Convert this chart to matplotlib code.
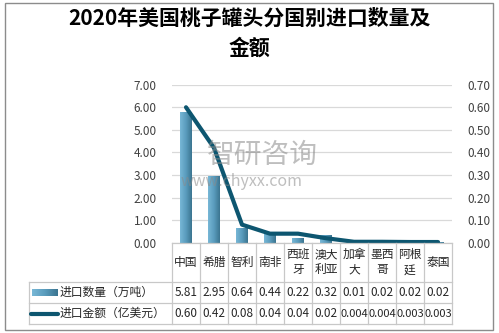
import matplotlib.pyplot as plt
import numpy as np
from matplotlib.colors import LinearSegmentedColormap
from matplotlib.patches import Rectangle

plt.rcParams['font.family'] = ['Noto Sans CJK SC', 'DejaVu Sans']

countries = ['中国', '希腊', '智利', '南非', '西班\n牙', '澳大\n利亚', '加拿\n大', '墨西\n哥', '阿根\n廷', '泰国']
quantity = [5.81, 2.95, 0.64, 0.44, 0.22, 0.32, 0.01, 0.02, 0.02, 0.02]
amount = [0.60, 0.42, 0.08, 0.04, 0.04, 0.02, 0.004, 0.004, 0.003, 0.003]
qty_labels = ['5.81', '2.95', '0.64', '0.44', '0.22', '0.32', '0.01', '0.02', '0.02', '0.02']
amt_labels = ['0.60', '0.42', '0.08', '0.04', '0.04', '0.02', '0.004', '0.004', '0.003', '0.003']
series_names = ['进口数量（万吨）', '进口金额（亿美元）']

W, H = 499, 333
fig = plt.figure(figsize=(W / 100, H / 100), dpi=100)


def fx(px):
    return px / W


def fy(py):
    return 1 - py / H


line_color = '#0d5670'
grid_color = '#d9d9d9'
table_color = '#c8c8c8'
bar_cmap = LinearSegmentedColormap.from_list('bar', ['#78b7d6', '#5a9cbd', '#3b7590'])

# plot area
x0, x1, ytop, ybot = 172, 452, 84.7, 242.7
ax = fig.add_axes([fx(x0), fy(ybot), fx(x1 - x0), (ybot - ytop) / H])
n = len(countries)
xs = np.arange(n)
ax.set_yticks(np.arange(0, 7.01, 1))
ax.set_yticklabels([f'{v:.2f}' for v in np.arange(0, 7.01, 1)])
ax.yaxis.grid(True, color=grid_color, lw=0.9)
ax.set_axisbelow(True)
ax.set_xticks([])
for s in ax.spines.values():
    s.set_visible(False)
ax.tick_params(axis='y', length=0, labelsize=8.5, pad=11, labelcolor='#404040')

bw = 0.4
grad = np.linspace(0, 1, 64).reshape(1, -1)
for x, q in zip(xs, quantity):
    r = Rectangle((x - bw / 2, 0), bw, q, facecolor='none', edgecolor='none')
    ax.add_patch(r)
    im = ax.imshow(grad, cmap=bar_cmap, aspect='auto', extent=(x - bw / 2, x + bw / 2, 0, q), zorder=2)
    im.set_clip_path(r)
ax.set_xlim(-0.5, n - 0.5)
ax.set_ylim(0, 7)

ax2 = ax.twinx()
ax2.set_ylim(0, 0.7)
ax2.set_yticks(np.arange(0, 0.71, 0.1))
ax2.set_yticklabels([f'{v:.2f}' for v in np.arange(0, 0.71, 0.1)])
for s in ax2.spines.values():
    s.set_visible(False)
ax2.tick_params(axis='y', length=0, labelsize=8.5, pad=11, labelcolor='#404040')
ax2.plot(xs, amount, color=line_color, lw=3, solid_capstyle='round', zorder=3)

# title
fig.text(0.5, fy(18), '2020年美国桃子罐头分国别进口数量及', ha='center', va='center',
         fontsize=15, fontweight='bold', color='black')
fig.text(0.5, fy(48), '金额', ha='center', va='center', fontsize=15, fontweight='bold', color='black')

# watermark
fig.text(fx(207), fy(155), '智研咨询', fontsize=20, color='#8a8a8a', alpha=0.55, va='center')
fig.text(fx(181), fy(181), 'www.chyxx.com', fontsize=11.5, color='#8a8a8a', alpha=0.55, va='center')

# data table
cw = (x1 - x0) / n
rows_y = [242.7, 281.7, 303.3, 324.3]
lkw = dict(color=table_color, lw=0.9, transform=fig.transFigure)
fig.add_artist(plt.Line2D([fx(x0), fx(x1)], [fy(rows_y[0])] * 2, **lkw))
for yy in rows_y[1:]:
    fig.add_artist(plt.Line2D([fx(29), fx(x1)], [fy(yy)] * 2, **lkw))
for i in range(n + 1):
    xx = x0 + i * cw
    fig.add_artist(plt.Line2D([fx(xx)] * 2, [fy(rows_y[0]), fy(rows_y[3])], **lkw))
fig.add_artist(plt.Line2D([fx(29)] * 2, [fy(rows_y[1]), fy(rows_y[3])], **lkw))

for i, c in enumerate(countries):
    cx = x0 + (i + 0.5) * cw
    fig.text(fx(cx), fy((rows_y[0] + rows_y[1]) / 2), c, ha='center', va='center',
             fontsize=8.5, linespacing=1.25, color='#262626')
    fig.text(fx(cx), fy((rows_y[1] + rows_y[2]) / 2), qty_labels[i], ha='center', va='center',
             fontsize=8.5, color='#262626')
    fig.text(fx(cx), fy((rows_y[2] + rows_y[3]) / 2), amt_labels[i], ha='center', va='center',
             fontsize=8.5 if len(amt_labels[i]) < 5 else 8, color='#262626')

# legend keys in table
ky1 = (rows_y[1] + rows_y[2]) / 2
key = fig.add_axes([fx(32), fy(ky1 + 3.5), fx(26), 7 / H])
key.imshow(grad, cmap=bar_cmap, aspect='auto')
key.axis('off')
ky2 = (rows_y[2] + rows_y[3]) / 2
fig.add_artist(plt.Line2D([fx(31), fx(58)], [fy(ky2)] * 2, color=line_color, lw=3,
                          solid_capstyle='round', transform=fig.transFigure))
fig.text(fx(60), fy(ky1), series_names[0], va='center', fontsize=8.5, color='#262626')
fig.text(fx(60), fy(ky2), series_names[1], va='center', fontsize=8.5, color='#262626')

# outer border
fig.add_artist(Rectangle((fx(5), fy(330)), fx(488), (330 - 3) / H, transform=fig.transFigure,
                         fill=False, edgecolor='#8c8c8c', lw=1))

fig.savefig('out.png', dpi=100)
